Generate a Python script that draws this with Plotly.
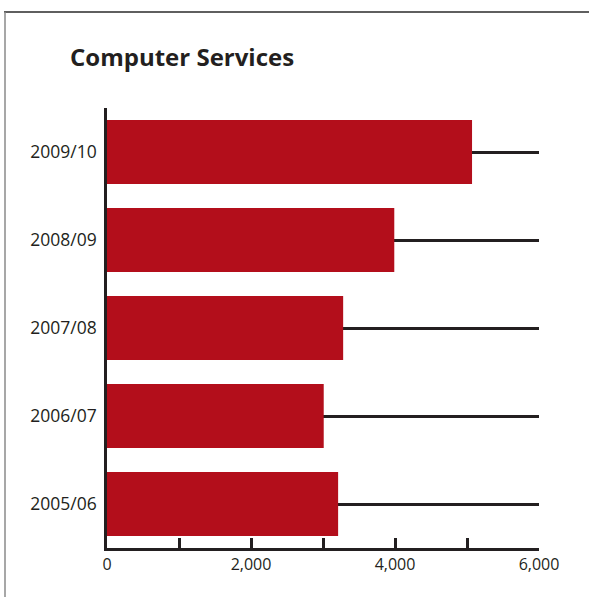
import plotly.graph_objects as go

# Computer Services spending by financial year
years = ["2005/06", "2006/07", "2007/08", "2008/09", "2009/10"]
values = [3210, 3010, 3280, 3990, 5070]

tick_vals = [0, 1000, 2000, 3000, 4000, 5000, 6000]
tick_text = ["0", "", "2,000", "", "4,000", "", "6,000"]

BAR_RED = "#B30E1B"
INK = "#231F20"

W, H = 589, 597
L, R, T, B = 107, 50, 108, 49
pw, ph = W - L - R, H - T - B

def px_x(px):
    return (px - L) / pw

def px_y(py):
    return (H - B - py) / ph

fig = go.Figure(
    go.Bar(
        x=values,
        y=years,
        orientation="h",
        marker=dict(color=BAR_RED, line=dict(width=0)),
        hoverinfo="x+y",
    )
)

fig.update_layout(
    width=W,
    height=H,
    margin=dict(l=L, r=R, t=T, b=B),
    paper_bgcolor="white",
    plot_bgcolor="white",
    bargap=0.274,
    showlegend=False,
    font=dict(family="Open Sans", color=INK, size=16),
    title=dict(
        text="<b>Computer Services</b>",
        font=dict(family="Open Sans", size=24, color=INK),
        x=70 / W,
        xref="container",
        xanchor="left",
        y=1 - 58 / H,
        yref="container",
        yanchor="middle",
    ),
    xaxis=dict(
        range=[0, 6000],
        tickvals=tick_vals,
        ticktext=tick_text,
        ticks="inside",
        ticklen=10,
        tickwidth=2.5,
        tickcolor=INK,
        showline=True,
        linecolor=INK,
        linewidth=2.5,
        showgrid=False,
        zeroline=False,
        tickfont=dict(size=16, color=INK),
    ),
    yaxis=dict(
        range=[-0.5, 4.5],
        showline=True,
        linecolor=INK,
        linewidth=2.5,
        showgrid=True,
        gridcolor=INK,
        gridwidth=2.5,
        ticks="",
        ticklabelstandoff=4,
        tickfont=dict(size=17.5, color=INK),
        zeroline=False,
    ),
    shapes=[
        # frame: dark top rule and grey left rule
        dict(type="line", xref="paper", yref="paper",
             x0=px_x(4), x1=px_x(600), y0=px_y(12), y1=px_y(12),
             line=dict(color="#2a2a2a", width=1.5), layer="above"),
        dict(type="line", xref="paper", yref="paper",
             x0=px_x(5), x1=px_x(5), y0=px_y(12), y1=px_y(610),
             line=dict(color="#8a8a8a", width=1.5), layer="above"),
    ],
)

fig.write_html("out.html")
